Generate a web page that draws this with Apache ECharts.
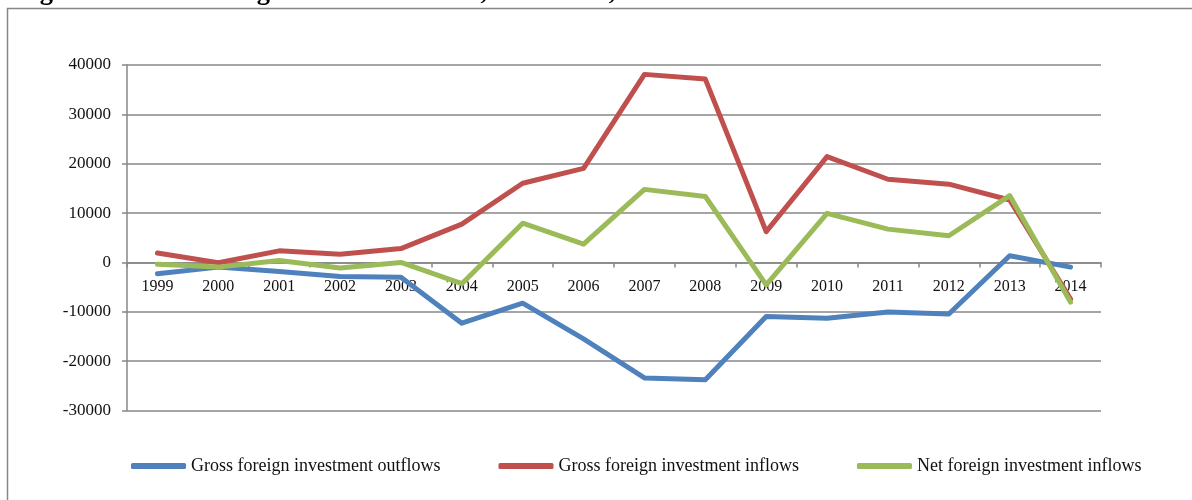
<!DOCTYPE html>
<html>
<head>
<meta charset="utf-8">
<title>Foreign investment flows, 1999-2014, USD million</title>
<script src="https://cdn.jsdelivr.net/npm/echarts@6/dist/echarts.min.js"></script>
<style>
  html, body { margin: 0; padding: 0; background: #fff; }
  #chart { width: 1192px; height: 500px; }
</style>
</head>
<body>
<div id="chart"></div>
<script>
// Years on the category axis
const years = ['1999', '2000', '2001', '2002', '2003', '2004', '2005', '2006',
               '2007', '2008', '2009', '2010', '2011', '2012', '2013', '2014'];

// USD million
const grossOutflows = [-2300, -950, -1850, -2850, -3000, -12300, -8250, -15500,
                       -23400, -23750, -10950, -11300, -10050, -10450, 1350, -950];
const grossInflows  = [1900, -50, 2350, 1650, 2800, 7750, 16050, 19050,
                       38100, 37150, 6250, 21450, 16850, 15850, 12650, -7400];
const netInflows    = [-350, -950, 400, -1150, 0, -4300, 7950, 3700,
                       14800, 13350, -4550, 9950, 6750, 5400, 13550, -8050];

const seriesNames = ['Gross foreign investment outflows',
                     'Gross foreign investment inflows',
                     'Net foreign investment inflows'];
const seriesColors = ['#4F81BD', '#C0504D', '#9BBB59'];
const seriesData = [grossOutflows, grossInflows, netInflows];

const yMin = -30000, yMax = 40000, yStep = 10000;

const serif = '"Liberation Serif", "DejaVu Serif", serif';
const lineGray = '#878787';

// plot box
const gridTop = 65, gridBottom = 89.5, chartHeight = 500;
const plotHeight = chartHeight - gridTop - gridBottom;
// shift the category axis up from the bottom edge to the zero line
const zeroShift = plotHeight * (0 - yMin) / (yMax - yMin);

const chart = echarts.init(document.getElementById('chart'), null, { renderer: 'canvas' });

chart.setOption({
  animation: false,
  backgroundColor: '#ffffff',
  textStyle: { fontFamily: serif },
  graphic: [
    // frame around the chart
    {
      type: 'rect',
      shape: { x: 7.5, y: 8.5, width: 1200, height: 520 },
      style: { fill: 'none', stroke: lineGray, lineWidth: 1.5 },
      silent: true
    },
    // caption above the frame
    {
      type: 'text',
      x: 0, y: -8,
      style: {
        text: 'Diagram 3:',
        font: 'bold 26.5px ' + serif,
        fill: '#000',
        verticalAlign: 'middle'
      },
      silent: true
    },
    {
      type: 'text',
      x: 197, y: -8,
      style: {
        text: 'Foreign investment flows, 1999-2014, USD million',
        font: 'bold 26.5px ' + serif,
        fill: '#000',
        verticalAlign: 'middle'
      },
      silent: true
    }
  ],
  grid: {
    left: 127,
    right: 91,
    top: gridTop,
    bottom: gridBottom
  },
  legend: {
    data: seriesNames,
    left: 131,
    top: 457,
    padding: 0,
    icon: 'roundRect',
    itemWidth: 55,
    itemHeight: 6,
    itemGap: 58,
    textStyle: { fontFamily: serif, fontSize: 18, color: '#111' }
  },
  xAxis: {
    type: 'category',
    data: years,
    boundaryGap: true,
    position: 'bottom',
    offset: -zeroShift,
    axisLine: { onZero: false, lineStyle: { color: lineGray, width: 1.5 } },
    axisTick: { show: true, inside: false, length: 5, alignWithLabel: false,
                lineStyle: { color: lineGray, width: 1.5 } },
    axisLabel: { fontFamily: serif, fontSize: 16, color: '#111', margin: 16, interval: 0 },
    splitLine: { show: false }
  },
  yAxis: {
    type: 'value',
    min: yMin,
    max: yMax,
    interval: yStep,
    axisLine: { show: true, lineStyle: { color: lineGray, width: 1.5 } },
    axisTick: { show: true, inside: false, length: 5, lineStyle: { color: lineGray, width: 1.5 } },
    axisLabel: {
      fontFamily: serif, fontSize: 17, color: '#111', margin: 16,
      formatter: (v) => String(v)
    },
    splitLine: { show: true, lineStyle: { color: lineGray, width: 1.5 } }
  },
  series: seriesNames.map((name, i) => ({
    name: name,
    type: 'line',
    data: seriesData[i],
    showSymbol: false,
    symbol: 'none',
    smooth: false,
    color: seriesColors[i],
    lineStyle: { width: 5, color: seriesColors[i], cap: 'round', join: 'round' },
    z: 2 + i
  }))
});
</script>
</body>
</html>
